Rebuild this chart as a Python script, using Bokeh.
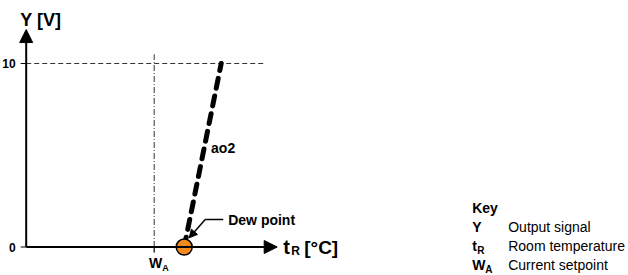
from bokeh.plotting import figure
from bokeh.models import Range1d, Arrow, NormalHead
from bokeh.core.properties import value
from bokeh.embed import file_html
from bokeh.resources import INLINE

# ---- data (schematic: x in arbitrary temperature units, y in volts) ----
y_ticks = [0, 10]
y_tick_labels = ["0", "10"]
signal_max = 10
setpoint_wa = 12.8
dew_point = 15.8
ao2_x = [15.8, 19.5]
ao2_y = [0, 10]
x_axis_end = 25.1
y_axis_end = 11.85
ref_line_end = 23.8
wa_line_top = 10.5
key_symbols = ["Y", "t", "W"]
key_subscripts = ["", "R", "A"]
key_texts = ["Output signal", "Room temperature", "Current setpoint"]

FONT = value("Liberation Sans")
W, H = 628, 275

p = figure(width=W, height=H, output_backend="svg", toolbar_location=None,
           x_range=Range1d(-2.57, 60.23), y_range=Range1d(-1.553, 13.433),
           min_border=0, outline_line_color=None)
p.axis.visible = False
p.grid.visible = False
p.background_fill_color = "white"
p.border_fill_color = "white"

# reference lines
p.line([0, ref_line_end], [signal_max, signal_max], line_color="#333333",
       line_width=1, line_dash="5 3")
p.line([setpoint_wa, setpoint_wa], [0, wa_line_top], line_color="#333333",
       line_width=1, line_dash="6 2 1 2")

# axes with arrow heads
p.add_layout(Arrow(end=NormalHead(size=13, fill_color="black", line_color="black", line_width=1),
                   x_start=0, y_start=0, x_end=0, y_end=y_axis_end,
                   line_width=2, line_color="black"))
p.add_layout(Arrow(end=NormalHead(size=13, fill_color="black", line_color="black", line_width=1),
                   x_start=0, y_start=0, x_end=x_axis_end, y_end=0,
                   line_width=2, line_color="black"))

# ticks
for t in y_ticks:
    p.segment(x0=[-0.55], y0=[t], x1=[0], y1=[t], line_color="black", line_width=1.2)
p.segment(x0=[setpoint_wa], y0=[0], x1=[setpoint_wa], y1=[-0.3], line_color="black", line_width=1.2)

p.text(x=[0] * len(y_ticks), y=y_ticks, text=y_tick_labels, x_offset=-10.5,
       text_font=FONT, text_font_style="bold", text_font_size="12px",
       text_align="right", text_baseline="middle", text_color="black")

# ao2 characteristic
p.line(ao2_x, ao2_y, line_color="black", line_width=5, line_dash="10 8",
       line_cap="round")
p.scatter([dew_point], [0], size=16, fill_color="#f58a1f", line_color="black",
          line_width=1.5)

# labels
mid = 0.537
ax = ao2_x[0] + (ao2_x[1] - ao2_x[0]) * mid
p.text(x=[ax], y=[signal_max * mid], text=["ao2"], x_offset=7,
       text_font=FONT, text_font_style="bold", text_font_size="14px",
       text_align="left", text_baseline="middle", text_color="black")

# dew point callout
p.line([dew_point + 2.1, dew_point + 3.9], [1.5, 1.5], line_color="black", line_width=1.5)
p.add_layout(Arrow(end=NormalHead(size=8, fill_color="black", line_color="black", line_width=1),
                   x_start=dew_point + 2.1, y_start=1.5, x_end=dew_point + 0.5, y_end=0.5,
                   line_width=1.5, line_color="black"))
p.text(x=[dew_point + 4.4], y=[1.45], text=["Dew point"],
       text_font=FONT, text_font_style="bold", text_font_size="14px",
       text_align="left", text_baseline="middle", text_color="black")

# axis titles
p.text(x=[0], y=[y_axis_end], text=["Y [V]"], x_offset=-6, y_offset=-10,
       text_font=FONT, text_font_style="bold", text_font_size="18px",
       text_align="left", text_baseline="middle", text_color="black")
p.text(x=[x_axis_end], y=[0], text=["t"], x_offset=6, y_offset=0,
       text_font=FONT, text_font_style="bold", text_font_size="20px",
       text_align="left", text_baseline="middle", text_color="black")
p.text(x=[x_axis_end], y=[0], text=["R"], x_offset=14, y_offset=4,
       text_font=FONT, text_font_style="bold", text_font_size="12px",
       text_align="left", text_baseline="middle", text_color="black")
p.text(x=[x_axis_end], y=[0], text=["[°C]"], x_offset=27, y_offset=0,
       text_font=FONT, text_font_style="bold", text_font_size="19px",
       text_align="left", text_baseline="middle", text_color="black")
p.text(x=[setpoint_wa], y=[0], text=["W"], x_offset=1.5, y_offset=15.5,
       text_font=FONT, text_font_style="bold", text_font_size="14px",
       text_align="center", text_baseline="middle", text_color="black")
p.text(x=[setpoint_wa], y=[0], text=["A"], x_offset=8, y_offset=21,
       text_font=FONT, text_font_style="bold", text_font_size="9px",
       text_align="left", text_baseline="middle", text_color="black")

# key
key_x, key_desc_x = 44.6, 48.2
key_y0, key_dy = 2.1, 1.035
p.text(x=[key_x], y=[key_y0], text=["Key"], text_font=FONT, text_font_style="bold",
       text_font_size="14px", text_align="left", text_baseline="middle", text_color="black")
rows_y = [key_y0 - key_dy * (i + 1) for i in range(len(key_texts))]
p.text(x=[key_x] * 3, y=rows_y, text=key_symbols, text_font=FONT, text_font_style="bold",
       text_font_size="14px", text_align="left", text_baseline="middle", text_color="black")
p.text(x=[key_x] * 3, y=rows_y, text=key_subscripts, x_offset=[0, 5, 13], y_offset=4,
       text_font=FONT, text_font_style="bold",
       text_font_size="10px", text_align="left", text_baseline="middle", text_color="black")
p.text(x=[key_desc_x] * 3, y=rows_y, text=key_texts, text_font=FONT,
       text_font_size="14px", text_align="left", text_baseline="middle", text_color="black")

open("out.html", "w").write(file_html(p, INLINE))
